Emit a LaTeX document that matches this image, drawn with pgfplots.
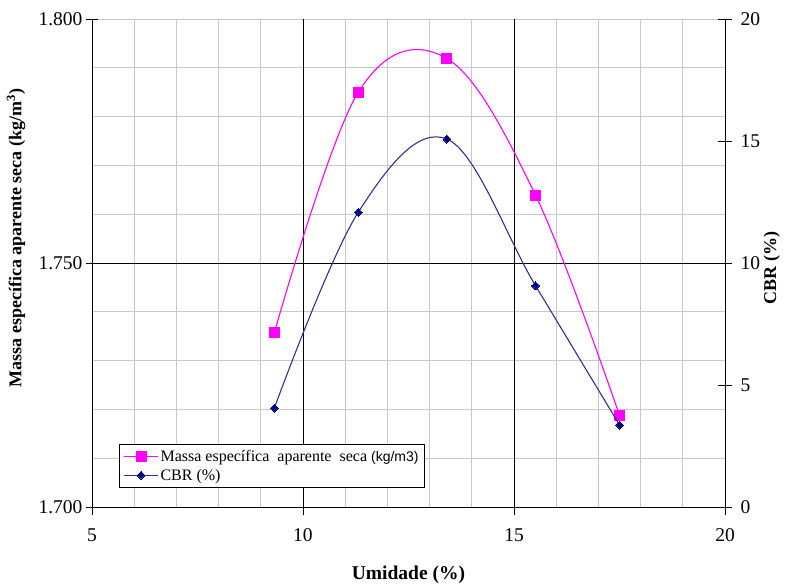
\documentclass[border=0pt]{standalone}
\usepackage{fontspec}
\setmainfont{Liberation Serif}
\setsansfont{Liberation Sans}
\usepackage{pgfplots}
\pgfplotsset{compat=1.18}
\definecolor{pinkm}{RGB}{255,0,255}
\definecolor{navyb}{RGB}{0,0,128}
\definecolor{navyl}{RGB}{50,50,140}
\definecolor{gridg}{RGB}{200,200,200}
\begin{document}
\begin{tikzpicture}
\path[use as bounding box] (-92pt,-77pt) rectangle (693pt,507pt);
\begin{axis}[
  at={(0pt,0pt)}, anchor=south west,
  scale only axis, width=633pt, height=488pt,
  xmin=5, xmax=20, ymin=1.7, ymax=1.8,
  xtick={5,10,15,20}, ytick={1.7,1.75,1.8},
  minor x tick num=4, minor y tick num=4,
  grid=both,
  major grid style={gridg, line width=0.9pt},
  minor grid style={gridg, line width=0.9pt},
  extra x ticks={10,15}, extra y ticks={1.75},
  extra x tick labels={}, extra y tick labels={},
  extra tick style={grid=major, major grid style={black, line width=0.9pt}},
  axis x line*=bottom, axis y line*=left,
  axis line style={black, line width=0.9pt, -},
  major tick style={black, line width=0.9pt},
  xtick style={yshift=-2pt},
  major tick length=12pt, minor tick length=0pt,
  tick align=center,
  /pgf/number format/assume math mode=true,
  yticklabel style={/pgf/number format/.cd, fixed, fixed zerofill, precision=3},
  ticklabel style={font=\fontsize{19.5}{21}\selectfont},
  xticklabel style={yshift=-12pt},
  xlabel={Umidade (\%)},
  ylabel={Massa específica aparente seca (kg/m$^{\mathbf{3}}$)},
  label style={font=\fontsize{18}{20}\selectfont\bfseries},
  xlabel style={at={(axis description cs:0.5,-0.139)}, anchor=center, font=\fontsize{19.5}{21}\selectfont\bfseries},
  ylabel style={at={(axis description cs:-0.120,0.551)}, anchor=center},
]
\addplot[pinkm, line width=1.1pt, smooth, tension=0.6, mark=square*, mark size=5pt, mark options={solid, fill=pinkm, draw=pinkm, line width=0pt}]
  coordinates {(9.32,1.7357) (11.31,1.7850) (13.41,1.7919) (15.51,1.7639) (17.50,1.7188)};
\end{axis}
\begin{axis}[
  at={(0pt,0pt)}, anchor=south west,
  scale only axis, width=633pt, height=488pt,
  xmin=5, xmax=20, ymin=0, ymax=20,
  axis x line=none, axis y line*=right,
  ytick={0,5,10,15,20},
  axis line style={black, line width=0.9pt, -},
  major tick style={black, line width=0.9pt},
  major tick length=14pt, tick align=center,
  /pgf/number format/assume math mode=true,
  ticklabel style={font=\fontsize{19.5}{21}\selectfont},
  yticklabel style={xshift=5pt},
  ylabel={CBR (\%)},
  label style={font=\fontsize{18}{20}\selectfont\bfseries},
  ylabel style={at={(axis description cs:1.074,0.49)}, anchor=center, rotate=0},
  legend style={at={(rel axis cs:0.0427,0.039)}, anchor=south west, draw=black, line width=0.9pt, fill=white, font=\fontsize{16}{19}\selectfont, inner xsep=4pt, inner ysep=4pt, row sep=2pt},
  legend cell align=left,
  legend image code/.code={\draw[mark repeat=2, mark phase=2] plot coordinates {(0pt,0pt) (17pt,0pt) (34pt,0pt)};},
]
\addlegendimage{pinkm, line width=1.1pt, mark=square*, mark size=5pt, mark options={solid, fill=pinkm, draw=pinkm, line width=0pt}}
\addlegendentry{Massa específica\ \ aparente\ \ seca {\sffamily\fontsize{14}{16}\selectfont (kg/m3)}}
\addplot[navyl, line width=1.1pt, smooth, tension=0.6, mark=diamond*, mark size=4pt, mark options={solid, xscale=1.3, fill=navyb, draw=navyb, line width=0pt}]
  coordinates {(9.32,4.05) (11.31,12.08) (13.41,15.08) (15.51,9.07) (17.50,3.36)};
\addlegendentry{CBR (\%)}
\end{axis}
\end{tikzpicture}
\end{document}
